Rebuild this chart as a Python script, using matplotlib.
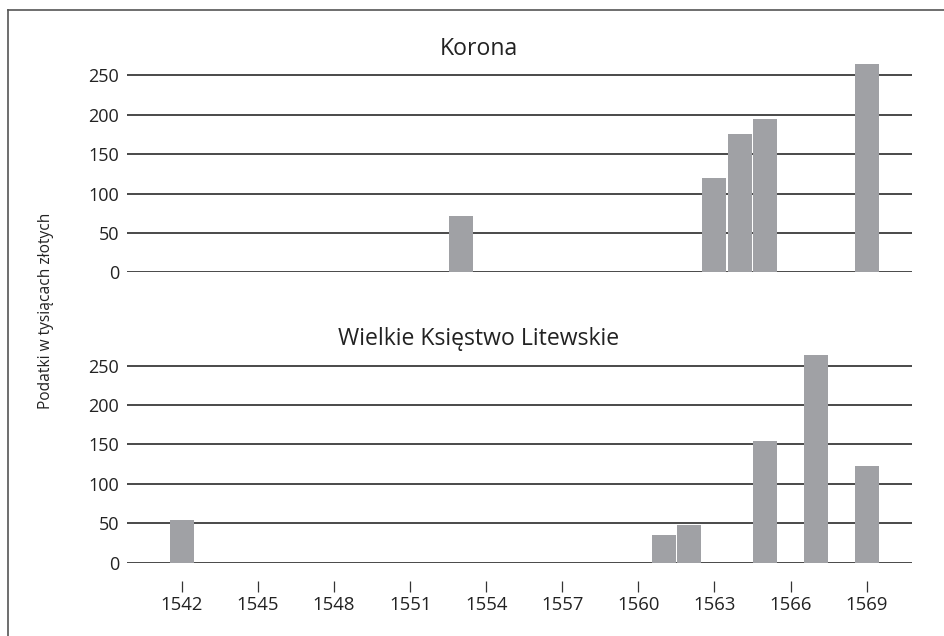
import matplotlib
matplotlib.use("Agg")
import matplotlib.pyplot as plt
from matplotlib.lines import Line2D

plt.rcParams['font.family'] = ['Open Sans', 'DejaVu Sans']

# data (thousands of zlotys)
korona_years = [1553, 1563, 1564, 1565, 1569]
korona_values = [72, 120, 176, 195, 264]

litwa_years = [1542, 1561, 1562, 1565, 1567, 1569]
litwa_values = [54, 35, 48, 154, 264, 123]

year_ticks = list(range(1542, 1570, 3))
y_ticks = [0, 50, 100, 150, 200, 250]

BAR_COLOR = '#a0a1a5'
GRID_COLOR = '#3a3a3a'
TEXT_COLOR = '#222222'

fig = plt.figure(figsize=(9.44, 6.36), dpi=100)

left, width, height = 0.1342, 0.8316, 0.3346
ax_top = fig.add_axes([left, 0.5718, width, height])
ax_bot = fig.add_axes([left, 0.1153, width, height])


def style_panel(ax, years, values, show_x):
    ax.bar(years, values, width=0.95, color=BAR_COLOR, zorder=3)
    for y in y_ticks:
        ax.axhline(y, color=GRID_COLOR, lw=1.3, zorder=2)
    ax.set_xlim(1539.82, 1570.78)
    ax.set_ylim(0, 270)
    ax.set_yticks(y_ticks)
    ax.tick_params(axis='y', length=0, pad=5.5, labelsize=13, labelcolor=TEXT_COLOR)
    for s in ['left', 'right', 'top']:
        ax.spines[s].set_visible(False)
    if show_x:
        ax.spines['bottom'].set_position(('outward', 13))
        ax.spines['bottom'].set_visible(False)
        ax.set_xticks(year_ticks)
        ax.set_xticklabels([str(y) for y in year_ticks])
        ax.tick_params(axis='x', direction='out', length=8, width=0.9,
                       color='#333333', pad=3, labelsize=13.3, labelcolor=TEXT_COLOR)
    else:
        ax.spines['bottom'].set_visible(False)
        ax.set_xticks([])


style_panel(ax_top, korona_years, korona_values, False)
style_panel(ax_bot, litwa_years, litwa_values, True)

fig.text(479 / 944, 1 - 49 / 636, 'Korona', ha='center', va='center',
         fontsize=16.6, color=TEXT_COLOR)
fig.text(479 / 944, 1 - 339 / 636, 'Wielkie Księstwo Litewskie', ha='center',
         va='center', fontsize=16.6, color=TEXT_COLOR)
fig.text(46 / 944, 1 - 311 / 636, 'Podatki w tysiącach złotych', rotation=90,
         ha='center', va='center', fontsize=11.2, color=TEXT_COLOR)

# frame lines (top and left edge of the original box)
fig.add_artist(Line2D([8 / 944, 1.0], [1 - 10 / 636, 1 - 10 / 636],
                      transform=fig.transFigure, color='#555555', lw=1.2))
fig.add_artist(Line2D([8 / 944, 8 / 944], [0.0, 1 - 10 / 636],
                      transform=fig.transFigure, color='#555555', lw=1.2))

fig.savefig('out.png', dpi=100)
